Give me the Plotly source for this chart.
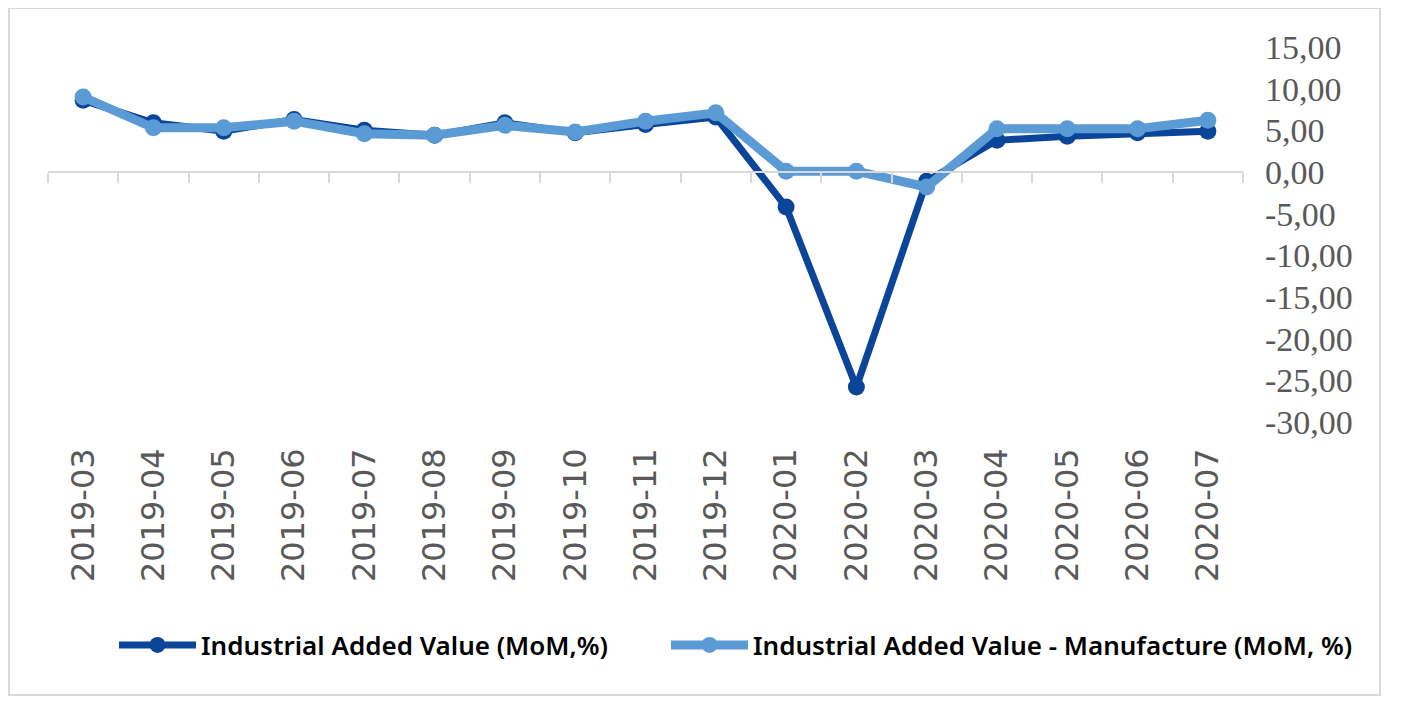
import plotly.graph_objects as go

months = ["2019-03", "2019-04", "2019-05", "2019-06", "2019-07", "2019-08", "2019-09",
          "2019-10", "2019-11", "2019-12", "2020-01", "2020-02", "2020-03", "2020-04",
          "2020-05", "2020-06", "2020-07"]
iav = [8.6, 5.9, 4.9, 6.3, 5.0, 4.4, 5.9, 4.7, 5.7, 6.6, -4.2, -25.8, -1.1, 3.8, 4.3, 4.7, 4.9]
iav_manu = [9.0, 5.3, 5.3, 6.1, 4.6, 4.4, 5.6, 4.8, 6.1, 7.1, 0.1, 0.1, -1.8, 5.2, 5.2, 5.2, 6.2]
names = ["Industrial Added Value (MoM,%)", "Industrial Added Value - Manufacture (MoM, %)"]
y_ticks = [15, 10, 5, 0, -5, -10, -15, -20, -25, -30]
y_ticktext = [f"{v:.2f}".replace(".", ",") for v in y_ticks]

DARK = "#0B4599"
LIGHT = "#5B9BD5"
GREY = "#595959"
LINEGREY = "#D9D9D9"

fig = go.Figure()
fig.add_trace(go.Scatter(x=months, y=iav, name=names[0], mode="lines+markers", legend="legend",
                         line=dict(color=DARK, width=7), marker=dict(size=17, color=DARK)))
fig.add_trace(go.Scatter(x=months, y=iav_manu, name=names[1], mode="lines+markers", legend="legend2",
                         line=dict(color=LIGHT, width=9), marker=dict(size=17, color=LIGHT)))
# dummy trace on xaxis2 to show category-boundary ticks on the zero line
fig.add_trace(go.Scatter(x=months, y=[None] * len(months), xaxis="x2", showlegend=False,
                         hoverinfo="skip", mode="lines"))

ymin, ymax = -30, 15
zero_pos = (0 - ymin) / (ymax - ymin)

L, T = 40, 39
PW, PH = 1195, 375
OFF = 8  # page offset of the figure in the screenshot

legend_font = dict(family="Noto Sans", size=26, color="black", weight=600)
leg_y = (T + PH - (645 - OFF)) / PH

fig.update_layout(
    width=1418, height=708,
    margin=dict(l=L, r=1418 - L - PW, t=T, b=708 - T - PH),
    paper_bgcolor="white", plot_bgcolor="white",
    showlegend=True,
    xaxis=dict(type="category", categoryorder="array", categoryarray=months,
               range=[-0.5, len(months) - 0.5],
               showline=False, showgrid=False, zeroline=False, ticks="",
               tickangle=-90, ticklabelstandoff=19,
               tickfont=dict(family="DejaVu Sans", size=32, color=GREY)),
    xaxis2=dict(type="category", categoryorder="array", categoryarray=months,
                range=[-0.5, len(months) - 0.5], overlaying="x", anchor="free",
                position=zero_pos, showline=True, linecolor=LINEGREY, linewidth=2,
                ticks="outside", tickson="boundaries", ticklen=10, tickwidth=2,
                tickcolor=LINEGREY, showticklabels=False, showgrid=False, zeroline=False),
    yaxis=dict(range=[ymin, ymax], side="right", tickvals=y_ticks, ticktext=y_ticktext,
               showline=False, showgrid=False, zeroline=False, ticks="",
               ticklabelstandoff=21,
               tickfont=dict(family="Liberation Serif", size=34, color=GREY)),
    legend=dict(orientation="h", x=(114 - OFF - L) / PW, y=leg_y,
                xanchor="left", yanchor="middle",
                itemwidth=77, font=legend_font, bgcolor="rgba(0,0,0,0)"),
    legend2=dict(orientation="h", x=(666 - OFF - L) / PW, y=leg_y,
                 xanchor="left", yanchor="middle",
                 itemwidth=77, font=legend_font, bgcolor="rgba(0,0,0,0)"),
    shapes=[dict(type="rect", xref="paper", yref="paper",
                 x0=(9 - OFF - L) / PW, x1=(1380 - OFF - L) / PW,
                 y0=(T + PH - (695 - OFF)) / PH, y1=(T + PH - (8 - OFF)) / PH,
                 line=dict(color=LINEGREY, width=2), layer="below")],
)

fig.write_html("out.html")
